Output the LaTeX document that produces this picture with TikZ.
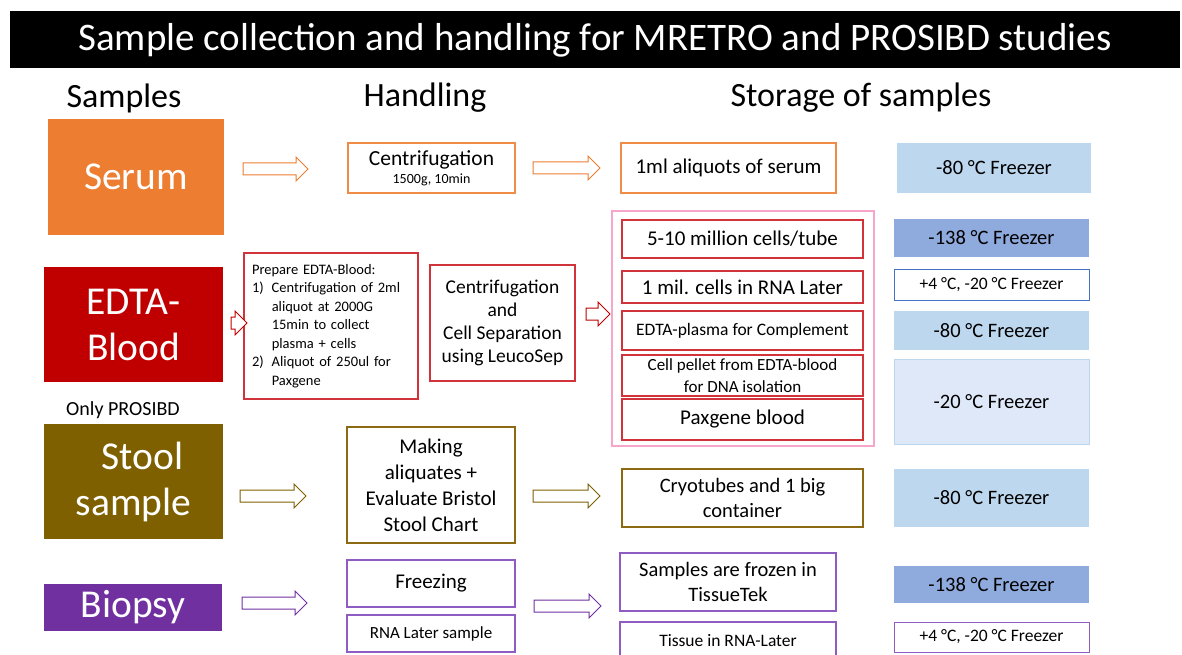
\documentclass[tikz,border=0pt]{standalone}
\usepackage{fontspec}
\setmainfont{Carlito}
\usetikzlibrary{shapes.arrows}

\definecolor{serumcol}{HTML}{ED7D31}
\definecolor{bloodcol}{HTML}{C00000}
\definecolor{stoolcol}{HTML}{7F6000}
\definecolor{biopsycol}{HTML}{7030A0}
\definecolor{bloodline}{HTML}{D0343A}
\definecolor{stoolline}{HTML}{8C6A14}
\definecolor{biopsyline}{HTML}{8E5CC2}
\definecolor{serumline}{HTML}{F08C46}
\definecolor{pinkline}{HTML}{F7A6CB}
\definecolor{frzlight}{HTML}{BDD7EE}
\definecolor{frzdark}{HTML}{8FAADC}
\definecolor{frzpale}{HTML}{DFE8F9}
\definecolor{frzline}{HTML}{4472C4}

\begin{document}
\begin{tikzpicture}[x=1pt, y=-1pt,
	samplebox/.style = {fill=#1, text=white, align=center, inner sep=0pt,
		font=\fontsize{39.5}{46}\selectfont},
	handlebox/.style = {draw=#1, fill=white, line width=1.2pt, align=center, inner sep=2pt,
		font=\fontsize{21}{26}\selectfont},
	freezerbox/.style = {fill=#1, inner sep=0pt, font=\fontsize{20.5}{24}\selectfont},
	blockarrow/.style = {single arrow, draw=#1, fill=white, line width=1pt,
		inner xsep=0pt, inner ysep=5.5pt, single arrow head extend=6pt},
	header/.style = {font=\fontsize{34}{38}\selectfont}]

	\useasboundingbox (0,0) rectangle (1182,655);

	% title bar
	\node[fill=black, text=white, minimum width=1170pt, minimum height=57pt, inner sep=0pt,
		font=\fontsize{39}{42}\selectfont] (title) at (595,40)
		{Sample collection and handling for MRETRO and PROSIBD studies};

	% column headers
	\node[header] (hsamples) at (124,98) {Samples};
	\node[header] (hhandling) at (425,98) {Handling};
	\node[header] (hstorage) at (861,98) {Storage of samples};

	% samples
	\node[samplebox=serumcol, minimum width=176pt, minimum height=116pt] (serum) at (136,177) {Serum};
	\node[samplebox=bloodcol, minimum width=179pt, minimum height=115pt] (blood) at (133.5,324.5) {EDTA-\\Blood};
	\node[font=\fontsize{20}{24}\selectfont] (only) at (123,410) {Only PROSIBD};
	\node[samplebox=stoolcol, minimum width=179pt, minimum height=115pt] (stool) at (133.5,481.5) {\hspace*{18pt}Stool\\sample};
	\node[samplebox=biopsycol, minimum width=178pt, minimum height=47pt] (biopsy) at (133,607.5) {Biopsy};

	% handling
	\node[handlebox=serumline, minimum width=167pt, minimum height=50pt] (centri) at (431.5,168)
		{\fontsize{21.5}{26}\selectfont Centrifugation\\[-8pt]{\fontsize{14}{16}\selectfont 1500g, 10min}};
	\node[handlebox=bloodline, text width=158pt, inner xsep=8pt, minimum height=146pt, align=left,
		font=\fontsize{14.5}{18.5}\selectfont] (prepare) at (331,326)
		{\begin{tabular}{@{}l@{\hspace{8pt}}l@{}}
			\multicolumn{2}{@{}l}{Prepare EDTA-Blood:}\\
			1) & Centrifugation of 2ml\\
			   & aliquot at 2000G\\
			   & 15min to collect\\
			   & plasma + cells\\
			2) & Aliquot of 250ul for\\
			   & Paxgene
		\end{tabular}};
	\node[handlebox=bloodline, minimum width=145pt, minimum height=116pt,
		font=\fontsize{19.5}{23}\selectfont] (cellsep) at (502.5,323)
		{Centrifugation\\and\\Cell Separation\\using LeucoSep};
	\node[handlebox=stoolline, minimum width=168pt, minimum height=116pt] (making) at (431,485)
		{Making\\aliquates +\\Evaluate Bristol\\Stool Chart};
	\node[handlebox=biopsyline, minimum width=168pt, minimum height=47pt] (freezing) at (431,583.5) {Freezing};
	\node[handlebox=biopsyline, minimum width=168pt, minimum height=37pt,
		font=\fontsize{17}{20}\selectfont] (rnasample) at (431,633.5) {RNA Later sample};

	% storage
	\node[handlebox=serumline, minimum width=215pt, minimum height=50pt] (aliquots) at (728.5,168) {1ml aliquots of serum};
	\node[draw=pinkline, line width=1.2pt, minimum width=262pt, minimum height=235pt] (container) at (743,328.5) {};
	\node[handlebox=bloodline, minimum width=241pt, minimum height=38pt] (million) at (742.5,239) {5-10 million cells/tube};
	\node[handlebox=bloodline, minimum width=241pt, minimum height=32pt] (rnacells) at (742.5,287) {1 mil. cells in RNA Later};
	\node[handlebox=bloodline, minimum width=241pt, minimum height=39pt,
		font=\fontsize{17.5}{20}\selectfont] (plasma) at (742.5,330.5) {EDTA-plasma for Complement};
	\node[handlebox=bloodline, minimum width=241pt, minimum height=41pt, inner sep=0pt,
		font=\fontsize{17}{22}\selectfont] (pellet) at (742.5,375.5) {Cell pellet from EDTA-blood\\for DNA isolation};
	\node[handlebox=bloodline, minimum width=241pt, minimum height=41pt] (paxgene) at (742.5,419.5) {Paxgene blood};
	\node[handlebox=stoolline, minimum width=241pt, minimum height=58pt, font=\fontsize{20.5}{25}\selectfont] (cryo) at (742.5,498)
		{Cryotubes and 1 big\\container};
	\node[handlebox=biopsyline, minimum width=216pt, minimum height=58pt, font=\fontsize{20.5}{25}\selectfont] (tissuetek) at (728,582)
		{Samples are frozen in\\TissueTek};
	\node[handlebox=biopsyline, minimum width=216pt, minimum height=38pt,
		font=\fontsize{17.5}{20}\selectfont] (tissuernal) at (728,641) {Tissue in RNA-Later};

	% freezers
	\node[freezerbox=frzlight, minimum width=194pt, minimum height=50pt] (frzserum) at (994,168) {-80 °C Freezer};
	\node[freezerbox=frzdark, minimum width=195pt, minimum height=38pt] (frzmillion) at (991.5,238) {-138 °C Freezer};
	\node[freezerbox=white, draw=frzline, line width=1pt, minimum width=195pt, minimum height=31pt,
		font=\fontsize{17.5}{20}\selectfont] (frzrna) at (991.5,284.5) {+4 °C, -20 °C Freezer};
	\node[freezerbox=frzlight, minimum width=195pt, minimum height=39pt] (frzplasma) at (991.5,330.5) {-80 °C Freezer};
	\node[freezerbox=frzpale, draw=frzlight, line width=1pt, minimum width=195pt, minimum height=85pt] (frzpellet) at (991.5,401.5) {-20 °C Freezer};
	\node[freezerbox=frzlight, minimum width=195pt, minimum height=58pt] (frzstool) at (991.5,498) {-80 °C Freezer};
	\node[freezerbox=frzdark, minimum width=195pt, minimum height=37pt] (frztissue) at (991.5,584.5) {-138 °C Freezer};
	\node[freezerbox=white, draw=biopsyline, line width=1pt, minimum width=195pt, minimum height=30pt,
		font=\fontsize{17.5}{20}\selectfont] (frzrnal) at (991.5,637) {+4 °C, -20 °C Freezer};

	% block arrows
	\node[blockarrow=serumcol, minimum height=65pt] (arserum) at (272.5,169) {};
	\node[blockarrow=serumcol, minimum height=67pt] (arserumb) at (563.5,168) {};
	\node[blockarrow=bloodcol, minimum height=16pt] (arblood) at (236,323) {};
	\node[blockarrow=bloodcol, minimum height=24pt] (arbloodb) at (595,314) {};
	\node[blockarrow=stoolcol, minimum height=66pt] (arstool) at (270,496) {};
	\node[blockarrow=stoolcol, minimum height=67pt] (arstoolb) at (563.5,496) {};
	\node[blockarrow=biopsycol, minimum height=65pt] (arbiopsy) at (271.5,603) {};
	\node[blockarrow=biopsycol, minimum height=67pt] (arbiopsyb) at (564.5,606) {};
\end{tikzpicture}
\end{document}
